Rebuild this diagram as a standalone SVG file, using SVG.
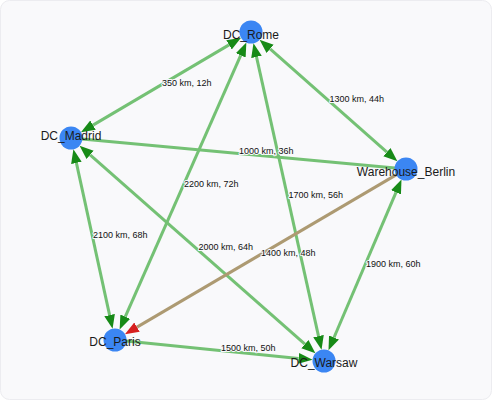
<svg xmlns="http://www.w3.org/2000/svg" width="493" height="401" viewBox="0 0 493 401">
<style>
.edge{stroke:#74c174;stroke-width:3;fill:none}
.edge.dir{stroke:#ad9a72}
.el{font-family:"Liberation Sans",Arial,sans-serif;font-size:9px;fill:#111;stroke:#f9f9fb;stroke-width:2;paint-order:stroke;stroke-linejoin:round}
.node circle{fill:#3b86f3}
.node text{font-family:"Liberation Sans",Arial,sans-serif;font-size:12px;fill:#1a1a1a;text-anchor:middle}
</style>
<defs>
<marker id="ag" markerUnits="userSpaceOnUse" markerWidth="14" markerHeight="12" refX="0" refY="5" orient="auto-start-reverse" viewBox="0 0 13 10"><path d="M0,0 L13,5 L0,10 z" fill="#178a17"/></marker>
<marker id="ar" markerUnits="userSpaceOnUse" markerWidth="14" markerHeight="12" refX="0" refY="5" orient="auto" viewBox="0 0 13 10"><path d="M0,0 L13,5 L0,10 z" fill="#d61f1f"/></marker>
</defs>
<rect x="0.5" y="0.5" width="491" height="399" rx="9" fill="#f9f9fb" stroke="#ececf0"/>
<g id="connectors">
<line class="edge" x1="229.0" y1="44.9" x2="93.0" y2="125.1" marker-start="url(#ag)" marker-end="url(#ag)"/>
<line class="edge" x1="270.1" y1="48.9" x2="386.9" y2="152.1" marker-start="url(#ag)" marker-end="url(#ag)"/>
<line class="edge" x1="240.7" y1="55.3" x2="125.3" y2="316.7" marker-start="url(#ag)" marker-end="url(#ag)"/>
<line class="edge" x1="256.5" y1="56.9" x2="318.5" y2="336.1" marker-start="url(#ag)" marker-end="url(#ag)"/>
<line class="edge" x1="82" y1="139" x2="395" y2="168"/>
<line class="edge" x1="76.4" y1="162.9" x2="109.6" y2="315.1" marker-start="url(#ag)" marker-end="url(#ag)"/>
<line class="edge" x1="90.1" y1="154.9" x2="304.9" y2="344.1" marker-start="url(#ag)" marker-end="url(#ag)"/>
<line class="edge" x1="396.0" y1="192.4" x2="334.0" y2="337.5" marker-start="url(#ag)" marker-end="url(#ag)"/>
<line class="edge dir" x1="396.5" y1="174.6" x2="137.0" y2="327.1" marker-end="url(#ar)"/>
<line class="edge" x1="126" y1="341" x2="298.6" y2="358.4" marker-end="url(#ag)"/>
<text class="el" x="162" y="86">350 km, 12h</text>
<text class="el" x="329.5" y="101.5">1300 km, 44h</text>
<text class="el" x="184" y="187">2200 km, 72h</text>
<text class="el" x="288.5" y="197.5">1700 km, 56h</text>
<text class="el" x="239" y="154">1000 km, 36h</text>
<text class="el" x="93" y="238">2100 km, 68h</text>
<text class="el" x="198.5" y="250">2000 km, 64h</text>
<text class="el" x="366" y="267">1900 km, 60h</text>
<text class="el" x="261" y="255.5">1400 km, 48h</text>
<text class="el" x="221" y="351">1500 km, 50h</text>
</g>
<g id="n-rome" class="node"><circle cx="251" cy="32" r="11.5"/><text x="251" y="39">DC_Rome</text></g>
<g id="n-madrid" class="node"><circle cx="71" cy="138" r="11.5"/><text x="71" y="140">DC_Madrid</text></g>
<g id="n-berlin" class="node"><circle cx="406" cy="169" r="11.5"/><text x="406" y="176">Warehouse_Berlin</text></g>
<g id="n-paris" class="node"><circle cx="115" cy="340" r="11.5"/><text x="115" y="346">DC_Paris</text></g>
<g id="n-warsaw" class="node"><circle cx="324" cy="361" r="11.5"/><text x="324" y="367">DC_Warsaw</text></g>
</svg>
